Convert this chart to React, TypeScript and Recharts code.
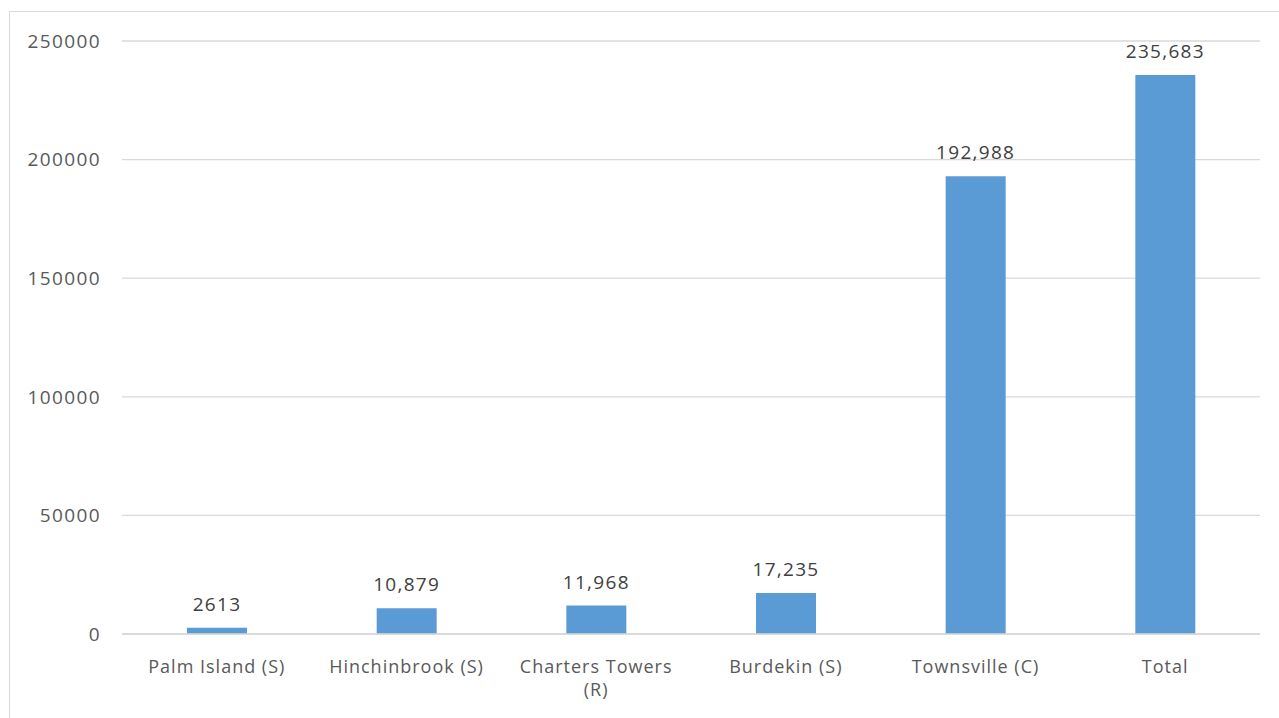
import React from "react";
import { BarChart, Bar, XAxis, YAxis, CartesianGrid, LabelList } from "recharts";

const categories = ["Palm Island (S)", "Hinchinbrook (S)", "Charters Towers (R)", "Burdekin (S)", "Townsville (C)", "Total"];
const values = [2613, 10879, 11968, 17235, 192988, 235683];
const valueLabels = ["2613", "10,879", "11,968", "17,235", "192,988", "235,683"];
const yTicks = [0, 50000, 100000, 150000, 200000, 250000];

const data = categories.map((name, i) => ({ name, value: values[i], label: valueLabels[i] }));

const FONT = "'Open Sans', sans-serif";

const XTick = (props: any) => {
  const { x, y, payload } = props;
  const text: string = payload.value;
  let lines = [text];
  if (text.length > 16) {
    const idx = text.lastIndexOf(" ");
    lines = [text.slice(0, idx), text.slice(idx + 1)];
  }
  return (
    <g>
      {lines.map((l, i) => (
        <text
          key={i}
          x={x}
          y={y + 39 + i * 23}
          textAnchor="middle"
          fill="#595959"
          fontSize={18}
          fontFamily={FONT}
          letterSpacing={1}
        >
          {l}
        </text>
      ))}
    </g>
  );
};

export default function App() {
  return (
    <div>
      <div
        style={{
          position: "absolute",
          left: 9,
          top: 11,
          width: 1269,
          height: 706,
          borderTop: "1px solid #d9d9d9",
          borderLeft: "1px solid #d9d9d9",
          pointerEvents: "none",
        }}
      />
      <BarChart
        width={1263}
        height={702}
        data={data}
        margin={{ top: 33, right: 11, left: 0, bottom: 0 }}
        barSize={60}
      >
        <CartesianGrid vertical={false} stroke="#d9d9d9" strokeWidth={1.3} />
        <XAxis
          dataKey="name"
          height={76}
          axisLine={{ stroke: "#d9d9d9", strokeWidth: 1.3 }}
          tickLine={false}
          tickSize={0}
          tickMargin={0}
          interval={0}
          tick={<XTick />}
        />
        <YAxis
          width={114}
          domain={[0, 250000]}
          ticks={yTicks}
          axisLine={false}
          tickLine={false}
          tickSize={0}
          tickMargin={21}
          tick={{ fill: "#595959", fontSize: 19, fontFamily: FONT, letterSpacing: 1.4 }}
        />
        <Bar dataKey="value" fill="#5b9bd5" isAnimationActive={false}>
          <LabelList
            dataKey="label"
            position="top"
            offset={17}
            fill="#404040"
            fontSize={19}
            fontFamily={FONT}
            letterSpacing={1.3}
          />
        </Bar>
      </BarChart>
    </div>
  );
}
